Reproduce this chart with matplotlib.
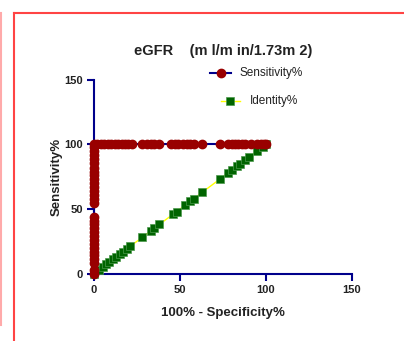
import matplotlib
matplotlib.use("Agg")
import matplotlib.pyplot as plt
from matplotlib.lines import Line2D

plt.rcParams['font.family'] = ['Liberation Sans', 'DejaVu Sans']

# ROC curve: 100% - Specificity% vs Sensitivity%
roc_x = [0, 0, 0, 0, 0, 0, 0, 0, 0, 0, 0, 0, 0, 0, 0,
         0, 0, 0, 0, 0, 0, 0, 0, 0, 0,
         0, 0, 0, 0, 0,
         0, 2, 4, 6, 8, 10, 12, 14, 16, 18, 20, 22, 28, 31, 33, 35, 38,
         45, 47, 49, 52, 54, 56, 58, 63, 73, 78, 80, 82, 84, 86, 88, 91,
         95, 97, 99, 100]
roc_y = [0, 3, 8, 11, 14, 17, 20, 23, 26, 29, 32, 35, 38, 41, 44,
         55, 58, 61, 64, 67, 70, 73, 76, 79, 82,
         86, 89, 92, 95, 98,
         100, 100, 100, 100, 100, 100, 100, 100, 100, 100, 100, 100, 100, 100, 100, 100, 100,
         100, 100, 100, 100, 100, 100, 100, 100, 100, 100, 100, 100, 100, 100, 100, 100,
         100, 100, 100, 100]

# identity line points
ident_x = [0, 3, 5, 7, 9, 11, 13, 15, 17, 19, 21, 28, 33, 35, 38, 46, 48,
           53, 56, 58, 63, 73, 78, 80, 83, 85, 88, 90, 95, 98, 100]
ident_y = [0, 3, 5, 7, 9, 11, 13, 15, 17, 19, 21, 28, 33, 35, 38, 46, 48,
           53, 56, 58, 63, 73, 78, 80, 83, 85, 88, 90, 95, 98, 100]

ticks = [0, 50, 100, 150]

navy = '#00008B'
red = '#990000'
green = '#006400'
txt = '#222222'

fig = plt.figure(figsize=(4.04, 3.41), dpi=100)
W, H = 404, 341
ax = fig.add_axes([94 / W, 1 - 273.5 / H, (352 - 94) / W, (273.5 - 80) / H])

ax.plot(ident_x, ident_y, color='#FFFF00', lw=1, marker='s', ms=6,
        mfc=green, mec='#4C9A4C', mew=0.5, clip_on=False, zorder=3)
ax.plot(roc_x, roc_y, color=navy, lw=1.5, marker='o', ms=6,
        mfc=red, mec=red, clip_on=False, zorder=4)

ax.set_xlim(0, 150)
ax.set_ylim(0, 150)
ax.set_xticks(ticks)
ax.set_yticks(ticks)
for s in ['top', 'right']:
    ax.spines[s].set_visible(False)
for s in ['left', 'bottom']:
    ax.spines[s].set_color(navy)
    ax.spines[s].set_linewidth(1.5)
ax.tick_params(colors=navy, width=1.5, length=5, labelcolor=txt,
               labelsize=8, pad=3)
for lab in ax.get_xticklabels() + ax.get_yticklabels():
    lab.set_fontweight('bold')

ax.set_xlabel('100% - Specificity%', fontsize=9.5, fontweight='bold',
              color=txt, labelpad=9)
ax.set_ylabel('Sensitivity%', fontsize=9.5, fontweight='bold', color=txt)
ax.yaxis.set_label_coords(-31 / 258, 0.5)
ax.set_title('eGFR    (m l/m in/1.73m 2)', fontsize=10.5, fontweight='bold',
             color=txt, pad=18)

# legend drawn by hand
fig.add_artist(Line2D([210 / W, 231 / W], [1 - 73 / H] * 2, color=navy, lw=1.5))
fig.add_artist(Line2D([220.5 / W], [1 - 73 / H], marker='o', ms=6,
                      mfc=red, mec=red))
fig.text(240 / W, 1 - 73 / H, 'Sensitivity%', fontsize=8.5, va='center',
         color=txt)
fig.add_artist(Line2D([221 / W, 240 / W], [1 - 101 / H] * 2, color='#FFFF00', lw=1))
fig.add_artist(Line2D([230.5 / W], [1 - 101 / H], marker='s', ms=6,
                      mfc=green, mec='#4C9A4C', mew=0.5))
fig.text(250 / W, 1 - 101 / H, 'Identity%', fontsize=8.5, va='center',
         color=txt)

# frame lines around the panel
fig.add_artist(Line2D([14 / W, 14 / W], [0, 1 - 13 / H], color='#FF4444', lw=1.5))
fig.add_artist(Line2D([14 / W, 1], [1 - 13 / H] * 2, color='#FF4444', lw=1.5))
fig.add_artist(Line2D([0.5 / W, 0.5 / W], [1 - 325 / H, 1 - 13 / H],
                      color='#FFAAAA', lw=1.5))

fig.savefig('out.png', dpi=100)
